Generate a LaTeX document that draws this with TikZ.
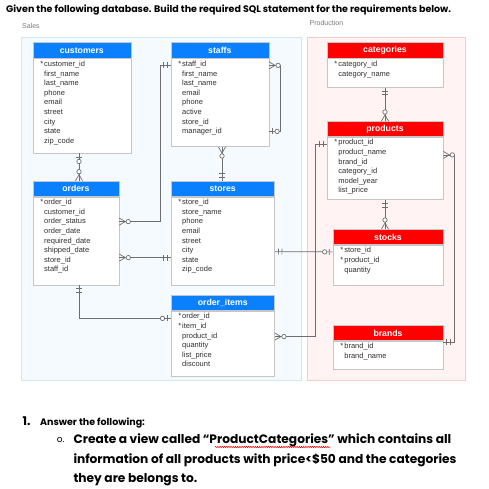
\documentclass[tikz,border=0pt]{standalone}
\usepackage{fontspec}
\setmainfont{Liberation Sans}
\newfontfamily\gothicfont{Poppins}
\usetikzlibrary{positioning,calc,decorations.markings,decorations.pathmorphing}
\definecolor{headblue}{HTML}{0A80FF}
\definecolor{headred}{HTML}{FF0000}
\definecolor{boxgray}{HTML}{C6C6C6}
\definecolor{linkgray}{HTML}{6E6E6E}
\definecolor{fieldtext}{HTML}{303030}
\definecolor{labelgray}{HTML}{7A7A7A}
\definecolor{salesfill}{HTML}{F5FAFF}
\definecolor{salesdraw}{HTML}{D3E5F8}
\definecolor{prodfill}{HTML}{FFF3F3}
\definecolor{proddraw}{HTML}{F8CACA}
\tikzset{
  tablehead/.style={
    rectangle, anchor=north west, inner sep=0pt, draw=boxgray, line width=0.6pt,
    minimum height=15.3, text=white, font=\fontsize{8.7}{10}\selectfont\bfseries
  },
  tablebody/.style={
    rectangle, inner sep=0pt, draw=boxgray, line width=0.6pt, fill=white
  },
  fieldlist/.style={
    anchor=north west, inner sep=0pt, align=left, text=fieldtext,
    font=\fontsize{7.5}{9.6}\selectfont
  },
  panellabel/.style={anchor=base west, inner sep=0pt, text=labelgray, font=\fontsize{7}{8}\selectfont},
  headline/.style={anchor=base west, inner sep=0pt, font=\gothicfont\bfseries\fontsize{9.5}{11}\selectfont},
  bigline/.style={anchor=base west, inner sep=0pt, align=left, font=\gothicfont\bfseries\fontsize{12.2}{19.5}\selectfont},
  erline/.style={draw=linkgray, line width=0.7pt},
  erbar/.style={draw=linkgray, line width=0.7pt},
  onestart/.style={postaction={decorate, decoration={markings,
    mark=at position 3.5pt with {\draw[erbar] (0,-3pt) -- (0,3pt);},
    mark=at position 7pt with {\draw[erbar] (0,-3pt) -- (0,3pt);}}}},
  oneend/.style={postaction={decorate, decoration={markings,
    mark=at position -7pt with {\draw[erbar] (0,-3pt) -- (0,3pt);},
    mark=at position -3.5pt with {\draw[erbar] (0,-3pt) -- (0,3pt);}}}},
  optstart/.style={postaction={decorate, decoration={markings,
    mark=at position 3.5pt with {\draw[erbar] (0,-3pt) -- (0,3pt);},
    mark=at position 8pt with {\draw[erbar, fill=white] (0,0) circle (2.2pt);}}}},
  optend/.style={postaction={decorate, decoration={markings,
    mark=at position -8pt with {\draw[erbar, fill=white] (0,0) circle (2.2pt);},
    mark=at position -3.5pt with {\draw[erbar] (0,-3pt) -- (0,3pt);}}}},
  manystart/.style={postaction={decorate, decoration={markings,
    mark=at position 6pt with {\draw[erbar] (-6pt,3.5pt) -- (0,0) -- (-6pt,-3.5pt);},
    mark=at position 9pt with {\draw[erbar, fill=white] (0,0) circle (2.2pt);}}}},
  manyend/.style={postaction={decorate, decoration={markings,
    mark=at position -9pt with {\draw[erbar, fill=white] (0,0) circle (2.2pt);},
    mark=at position -6pt with {\draw[erbar] (6pt,3.5pt) -- (0,0) -- (6pt,-3.5pt);}}}}
}
\newcommand{\pkey}{\llap{*\hspace{1pt}}}
% colour, name, x, y, width, body height, title, fields
\newcommand{\ertable}[8]{
  \node[tablehead, fill=#1, minimum width=#5] (#2-head) at (#3,#4) {#7};
  \node[tablebody, minimum width=#5, minimum height=#6, below=0pt of #2-head] (#2) {};
  \node[fieldlist] (#2-fields) at ($(#2.north west)+(11.5,2.4)$) {#8};
}

\begin{document}
\begin{tikzpicture}[x=1pt, y=-1pt]
\useasboundingbox (0,0) rectangle (488,489);
\fill[white] (0,0) rectangle (488,489);

\node[headline] (title) at (6,12.3) {Given the following database. Build the required SQL statement for the requirements below.};
\node[panellabel] (sales-label) at (22,29) {Sales};
\node[panellabel] (prod-label) at (309.5,26) {Production};

% schema areas
\draw[fill=salesfill, draw=salesdraw, line width=0.8pt] (21.7,37.7) rectangle (301.7,380);
\draw[fill=prodfill, draw=proddraw, line width=0.8pt] (307.7,37.7) rectangle (465.7,380);

% sales tables
\ertable{headblue}{cust}{32.5}{42.5}{98}{94.5}{customers}{\pkey customer\_id\\first\_name\\last\_name\\phone\\email\\street\\city\\state\\zip\_code}
\ertable{headblue}{stf}{170.5}{42.5}{98}{88}{staffs}{\pkey staff\_id\\first\_name\\last\_name\\email\\phone\\active\\store\_id\\manager\_id}
\ertable{headblue}{ord}{32.5}{180.7}{86.2}{88}{orders}{\pkey order\_id\\customer\_id\\order\_status\\order\_date\\required\_date\\shipped\_date\\store\_id\\staff\_id}
\ertable{headblue}{sto}{170.5}{180.7}{103.8}{88}{stores}{\pkey store\_id\\store\_name\\phone\\email\\street\\city\\state\\zip\_code}
\ertable{headblue}{oitem}{170.5}{295}{103.8}{64.6}{order\_items}{\pkey order\_id\\\pkey item\_id\\product\_id\\quantity\\list\_price\\discount}

% production tables
\ertable{headred}{cat}{326.7}{42.5}{116}{28.7}{categories}{\pkey category\_id\\category\_name}
\ertable{headred}{prod}{326.7}{121}{116}{62.5}{products}{\pkey product\_id\\product\_name\\brand\_id\\category\_id\\model\_year\\list\_price}
\ertable{headred}{stk}{332.7}{229}{110}{40.3}{stocks}{\pkey store\_id\\\pkey product\_id\\quantity}
\ertable{headred}{brd}{332.7}{325}{110}{28}{brands}{\pkey brand\_id\\brand\_name}

% relationships
\coordinate (lane-a) at (79,0);
\coordinate (lane-c) at (222,0);
\coordinate (lane-d) at (385,0);
\draw[erline, optstart, manyend] (cust.south -| lane-a) -- (ord-head.north -| lane-a);
\draw[erline, onestart, manyend] ($(stf.north west)+(0,7)$) -| ($(ord.north east)+(41,25)$) -- ($(ord.north east)+(0,25)$);
\draw[erline, manystart, optend] ($(stf.north east)+(0,7)$) -| ($(stf.north east)+(11.5,73)$) -- ($(stf.north east)+(0,73)$);
\draw[erline, manystart, oneend] (stf.south -| lane-c) -- (sto-head.north -| lane-c);
\draw[erline, manystart, oneend] ($(ord.north east)+(0,61)$) -- ($(sto.north west)+(0,61)$);
\draw[erline, onestart, optend] (ord.south -| lane-a) |- ($(oitem.north west)+(0,7.5)$);
\draw[erline, onestart, optend] ($(sto.north east)+(0,55)$) -- ($(stk.north west)+(0,7)$);
\draw[erline, onestart, manyend] (cat.south -| lane-d) -- (prod-head.north -| lane-d);
\draw[erline, onestart, manyend] ($(prod.north west)+(0,7)$) -| ($(oitem.north east)+(40.7,25.7)$) -- ($(oitem.north east)+(0,25.7)$);
\draw[erline, manystart, oneend] ($(prod.north east)+(0,18)$) -| ($(brd.north east)+(11.3,1)$) -- ($(brd.north east)+(0,1)$);
\draw[erline, onestart, manyend] (prod.south -| lane-d) -- (stk-head.north -| lane-d);

% question
\node[headline, font=\gothicfont\bfseries\fontsize{12}{13}\selectfont] (qnum) at (22.5,425) {1.};
\node[headline] (qlead) at (40,425) {Answer the following:};
\node[headline, font=\gothicfont\fontsize{9}{10}\selectfont] (qitem) at (56.7,442.7) {o.};
\node[bigline] (qtext) at (73.3,482.7) {Create a view called “ProductCategories” which contains all\\information of all products with price<\$50 and the categories\\they are belongs to.};
\draw[headred, line width=0.5pt, decorate, decoration={snake, amplitude=0.7pt, segment length=2.2pt}] (215,447) -- (330,447);
\end{tikzpicture}
\end{document}
